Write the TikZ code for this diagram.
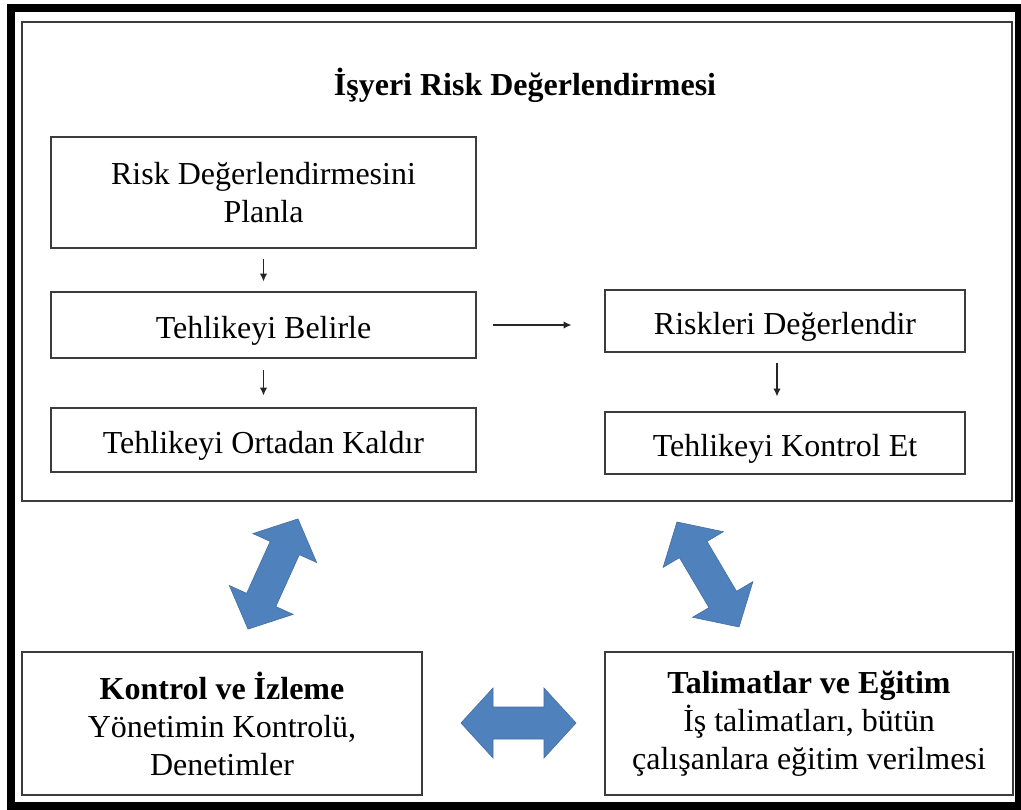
\documentclass[tikz,border=0pt]{standalone}
\usepackage{fontspec}
\setmainfont{Liberation Serif}
\usetikzlibrary{arrows.meta}
\definecolor{boxline}{RGB}{60,60,60}
\definecolor{bluearrow}{RGB}{79,129,189}
\newcommand\mydblarrow[4]{%
  \begin{scope}[shift={(#1,#2)}, rotate=#3]
    \path[bigarrow] ({-#4/2},0) -- ({-#4/2+32},-35) -- ({-#4/2+32},-16) -- ({#4/2-32},-16)
      -- ({#4/2-32},-35) -- ({#4/2},0) -- ({#4/2-32},35) -- ({#4/2-32},16)
      -- ({-#4/2+32},16) -- ({-#4/2+32},35) -- cycle;
  \end{scope}}
\begin{document}
\begin{tikzpicture}[x=1pt,y=-1pt,
  box/.style={draw=boxline, line width=2.8pt, fill=white, inner sep=0pt},
  txt/.style={font=\fontsize{32}{38}\selectfont, align=center},
  oneline/.style={text height=27pt, text depth=0pt},
  conn/.style={draw=black!85, line width=1.6pt, -{Latex[length=8pt,width=7.5pt]}},
  bigarrow/.style={fill=bluearrow, draw=bluearrow!85!black, line width=0.6pt}]
\useasboundingbox (0,0) rectangle (1021,810);
\fill[white] (0,0) rectangle (1021,810);
\draw[line width=8pt] (11,8) rectangle (1019,806);

\node[box, minimum width=990pt, minimum height=479pt] (main) at (517,261.5) {};
\node[txt, font=\fontsize{32}{38}\selectfont\bfseries] (title) at (525,85) {İşyeri Risk Değerlendirmesi};

\node[box, txt, minimum width=425pt, minimum height=111pt] (planla) at (263.5,192.5) {Risk Değerlendirmesini\\Planla};
\node[box, txt, oneline, minimum width=425pt, minimum height=66pt] (belirle) at (263.5,325) {Tehlikeyi Belirle};
\node[box, txt, oneline, minimum width=425pt, minimum height=64pt] (kaldir) at (263.5,440) {Tehlikeyi Ortadan Kaldır};
\node[box, txt, oneline, minimum width=360pt, minimum height=62pt] (riskleri) at (785,321) {Riskleri Değerlendir};
\node[box, txt, oneline, minimum width=360pt, minimum height=62pt] (kontrol) at (785,443) {Tehlikeyi Kontrol Et};

\node[box, txt, minimum width=400pt, minimum height=143pt] (izleme) at (222,723.5)
  {{\bfseries Kontrol ve İzleme}\\Yönetimin Kontrolü,\\Denetimler};
\node[box, txt, minimum width=408pt, minimum height=143pt] (egitim) at (809,723.5)
  {{\bfseries Talimatlar ve Eğitim}\\İş talimatları, bütün\\çalışanlara eğitim verilmesi};

\draw[conn, shorten <=10pt, shorten >=9pt] (planla.south) -- (belirle.north);
\draw[conn, shorten <=11pt, shorten >=11pt] (belirle.south) -- (kaldir.north);
\draw[conn, shorten <=16pt, shorten >=32pt] (belirle.east) -- (belirle.east -| riskleri.west);
\draw[conn, shorten <=10pt, shorten >=14pt] ([xshift=-8pt]riskleri.south) -- ([xshift=-8pt]kontrol.north);

\mydblarrow{273}{574}{65.6}{121}
\mydblarrow{708}{574.5}{120.6}{122}
\mydblarrow{518.5}{723}{0}{115}
\end{tikzpicture}
\end{document}
